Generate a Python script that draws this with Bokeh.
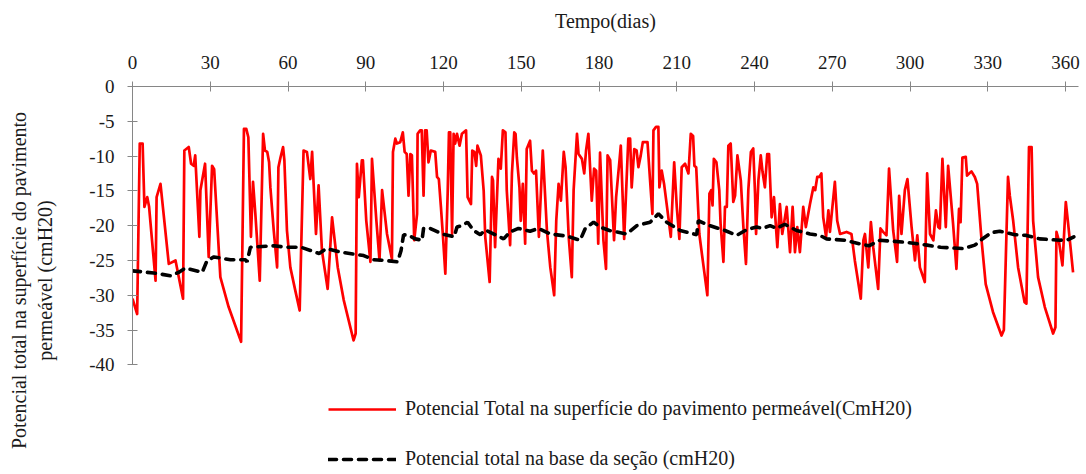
from bokeh.plotting import figure
from bokeh.models import Range1d, FixedTicker, Legend, LegendItem, PrintfTickFormatter
from bokeh.embed import file_html
from bokeh.resources import INLINE

# Surface total potential (cmH2O), daily record read as (day, value) vertices
surface_days = [
    0, 1.8, 2.8, 3.9, 4.6, 5.7, 6.4, 8.9, 9.3, 10.8, 14.0, 16.6, 19.5, 20.0, 21.7, 22.6, 23.6,
    24.2, 25.8, 26.2, 28.0, 29.4, 30.7, 31.5, 33.9, 37.1, 41.9, 43.0, 43.9, 44.7, 45.7, 46.5,
    47.4, 49.1, 50.4, 51.1, 52.0, 52.7, 53.2, 54.5, 55.8, 56.3, 57.1, 58.1, 58.6, 59.6, 60.9,
    62.8, 64.5, 66.0, 67.3, 68.6, 69.3, 70.8, 71.8, 73.1, 75.3, 77.0, 79.2, 81.5, 85.3, 86.1,
    86.6, 87.3, 88.5, 88.9, 90.2, 91.8, 92.4, 94.1, 95.3, 96.3, 98.2, 100.1, 100.5, 101.4,
    102.0, 103.3, 104.3, 105.0, 105.8, 106.5, 107.2, 107.8, 108.7, 109.8, 110.0, 111.0, 111.6,
    112.3, 112.9, 113.5, 114.2, 115.1, 116.8, 117.5, 118.2, 119.0, 119.8, 120.7, 121.6, 122.1,
    122.6, 123.3, 123.9, 124.5, 125.2, 126.2, 127.1, 128.7, 129.3, 130.6, 131.1, 131.9, 132.6,
    133.1, 134.4, 135.5, 136.1, 137.8, 138.7, 139.1, 139.9, 141.2, 142.1, 142.9, 143.9, 144.4,
    145.7, 146.4, 147.3, 147.8, 148.3, 149.3, 149.8, 150.6, 151.5, 152.1, 153.4, 154.1, 154.9,
    155.7, 156.8, 158.3, 159.9, 161.2, 162.7, 163.5, 164.4, 165.3, 166.4, 167.1, 168.3, 169.5,
    170.2, 171.5, 172.1, 173.4, 174.3, 175.0, 175.9, 177.2, 178.1, 178.9, 179.7, 180.4, 181.7,
    182.7, 183.3, 184.3, 185.8, 186.6, 187.9, 188.4, 189.7, 191.3, 192.0, 192.6, 193.6, 194.5,
    195.2, 196.1, 196.9, 198.7, 199.7, 200.6, 201.0, 202.0, 202.9, 203.3, 204.2, 205.1, 206.1,
    207.7, 209.0, 210.0, 211.0, 211.9, 213.2, 214.5, 215.4, 216.3, 216.8, 217.5, 218.7, 220.2,
    221.8, 222.6, 223.3, 223.8, 224.3, 225.3, 226.4, 226.9, 228.0, 228.6, 229.3, 229.9, 230.8,
    231.8, 232.5, 233.4, 234.7, 235.7, 236.7, 237.6, 238.6, 239.5, 240.2, 240.6, 241.5, 242.4,
    243.1, 244.0, 244.9, 245.6, 246.6, 247.5, 248.8, 249.8, 250.7, 252.4, 253.7, 254.7, 255.6,
    256.5, 257.5, 258.8, 259.8, 261.4, 262.7, 263.4, 264.2, 265.0, 265.8, 266.5, 267.6, 268.5,
    269.1, 271.0, 271.9, 273.0, 275.5, 277.4, 278.7, 281.0, 282.0, 282.6, 283.9, 284.9, 285.8,
    287.7, 288.6, 289.6, 290.9, 291.9, 293.5, 295.0, 295.8, 296.7, 298.0, 299.0, 300.6, 301.9,
    302.8, 303.8, 305.7, 306.6, 307.7, 309.0, 310.0, 310.9, 311.5, 312.5, 313.8, 314.7, 316.6,
    317.9, 318.9, 319.5, 320.2, 321.5, 322.0, 323.7, 325.0, 325.9, 327.6, 329.2, 332.0, 335.3,
    336.2, 337.8, 338.5, 339.8, 341.7, 344.2, 344.9, 345.9, 346.9, 347.5, 349.4, 352.0, 355.2,
    356.1, 356.5, 357.4, 358.8, 360.1, 361.0, 362.9,
]
surface_values = [
    -30.5, -32.7, -8.2, -8.2, -17.3, -15.9, -17.3, -27.9, -15.9, -14.0, -25.5, -25.0, -30.5, -9.2, -8.7, -11.1, -11.4,
    -9.9, -21.6, -14.9, -11.1, -24.5, -11.4, -11.9, -27.4, -31.7, -36.7, -6.1, -6.1, -7.3, -21.6, -13.7,
    -18.3, -27.9, -6.8, -9.2, -9.4, -10.9, -14.5, -20.7, -26.0, -11.6, -10.2, -8.7, -10.6, -20.7, -26.0,
    -29.3, -32.2, -9.2, -9.4, -13.3, -9.4, -21.2, -14.2, -23.6, -29.1, -18.8, -26.0, -30.7, -36.5, -35.5,
    -11.1, -15.9, -10.6, -10.6, -19.3, -25.2, -10.4, -19.3, -25.0, -14.9, -21.2, -24.8, -9.4, -7.5,
    -8.2, -8.0, -6.6, -9.4, -9.7, -15.7, -9.7, -9.9, -22.1, -18.3, -6.8, -6.3, -6.3,
    -15.7, -6.3, -6.3, -10.9, -9.2, -9.4, -13.0, -13.3, -17.3, -21.6, -26.9, -15.4, -6.6,
    -6.6, -21.2, -6.8, -8.2, -6.8, -8.5, -6.8, -6.3, -15.9, -16.9, -9.2, -9.4, -11.4,
    -8.5, -9.9, -15.0, -21.6, -28.1, -13.0, -13.5, -23.1, -10.4, -11.8, -6.3, -6.6, -14.9,
    -22.8, -12.5, -6.6, -6.8, -10.2, -14.5, -19.3, -14.0, -22.6, -9.0, -7.8, -12.1, -12.5,
    -12.1, -21.6, -9.2, -20.7, -26.0, -30.0, -19.3, -14.0, -16.4, -9.4, -11.6, -21.6, -27.4,
    -14.9, -6.8, -9.7, -10.4, -12.5, -9.2, -6.8, -16.4, -11.8, -12.1, -22.6, -9.5, -22.1,
    -26.2, -9.9, -10.6, -22.1, -15.9, -10.6, -8.5, -21.9, -7.5, -7.5, -14.5, -9.0, -9.2,
    -11.6, -9.9, -8.0, -8.0, -13.5, -18.3, -6.3, -5.8, -5.8, -14.5, -12.1, -14.0, -16.9,
    -21.6, -10.9, -17.3, -21.9, -11.6, -11.1, -12.5, -6.8, -7.1, -11.4, -11.6, -21.2, -25.5,
    -30.0, -15.4, -14.9, -17.1, -10.4, -10.9, -14.9, -19.7, -25.2, -17.3, -17.3, -8.5, -8.2,
    -16.6, -15.7, -9.9, -13.5, -20.2, -25.5, -14.9, -9.4, -8.9, -15.4, -21.2, -13.5, -9.9,
    -12.3, -14.5, -9.7, -9.7, -18.8, -15.9, -23.1, -16.9, -21.2, -17.3, -23.8, -17.3, -23.8,
    -20.2, -23.8, -17.3, -20.2, -16.9, -14.5, -14.9, -13.0, -13.0, -12.5, -18.8, -21.6, -17.8,
    -20.9, -13.7, -19.3, -21.2, -20.9, -21.2, -25.0, -30.5, -22.1, -21.2, -26.0, -19.5, -23.1,
    -29.1, -20.4, -20.9, -21.4, -11.8, -20.7, -25.2, -15.7, -21.2, -14.9, -13.3, -20.2, -25.0,
    -21.4, -26.0, -28.1, -12.5, -21.2, -22.1, -17.8, -20.2, -20.4, -10.4, -20.2, -11.4, -19.7,
    -26.2, -17.6, -19.5, -10.2, -10.1, -12.8, -12.2, -13.0, -14.0, -22.1, -28.4, -32.4, -35.8,
    -35.0, -13.0, -15.7, -19.3, -26.0, -31.0, -31.2, -8.7, -8.7, -19.3, -27.4, -31.7, -35.5,
    -34.6, -20.9, -22.1, -25.7, -16.6, -19.7, -26.7,
]

# Total potential at the base of the section (cmH2O)
base_days = [
    0, 8.2, 14.7, 17.9, 20.4, 26.9, 28.8, 31.4, 37.8, 43.6, 44.2, 45.5, 50, 54.5, 59.6, 65,
    72, 74.8, 80.2, 89.2, 93, 97.5, 102.3, 103.6, 104.6, 106.5, 109.1, 111.7, 112.3, 114.9,
    119.4, 122.0, 124.1, 125.2, 127.1, 129.3, 131.6, 134.2, 136.1, 143.2, 145.7, 148.9, 153.4,
    156.6, 161.2, 167.6, 172.7, 174.7, 177.9, 180.4, 184, 190.7, 194.6, 199.7, 202.9, 206.1,
    211.3, 217.7, 218.3, 222.8, 228.6, 233.1, 236.9, 240.8, 243, 246, 248.5, 251.7, 256.2,
    261.4, 265.2, 267.8, 274.9, 278.1, 284.1, 288.4, 298.6, 306.6, 311.8, 320.5, 325.0, 327.6,
    331.4, 334.6, 340.4, 344.9, 350.0, 357.8, 361.0, 363.2,
]
base_values = [
    -26.5, -26.8, -27.2, -26.7, -26.1, -26.7, -25.0, -24.5, -24.9, -24.9, -25.2, -23.1, -23.0, -22.9, -23.1, -23.1,
    -24.0, -23.3, -23.8, -24.3, -24.9, -25.0, -25.2, -23.6, -21.3, -21.4, -21.9, -22.1, -20.4, -20.4,
    -21.2, -21.4, -21.6, -20.2, -20.0, -19.5, -20.7, -21.3, -20.6, -21.9, -20.9, -20.4, -20.8,
    -20.4, -21.2, -21.5, -22.1, -20.4, -19.5, -20.2, -20.7, -21.2, -20.0, -19.5, -18.3, -19.5,
    -20.7, -21.3, -19.3, -20.0, -20.7, -21.4, -20.6, -20.2, -20.4, -20.0, -20.4, -19.8, -20.7,
    -21.2, -21.4, -21.9, -22.1, -22.4, -22.9, -22.1, -22.4, -22.8, -23.1, -23.3, -22.8, -22.0,
    -21.0, -20.8, -21.3, -21.4, -21.9, -22.1, -22.0, -21.6,
]

surface_label = "Potencial Total na superfície do pavimento permeável(CmH20)"
base_label = "Potencial total na base da seção (cmH20)"

day_ticks = list(range(0, 361, 30))
value_ticks = list(range(0, -41, -5))

FONT = "Liberation Serif"
TEXT = "#1a1a1a"
AXIS = "#868686"

# The frame runs to the bottom of the page so the key can sit under the
# -40 line; the value axis itself is bounded to 0..-40.
PX_PER_UNIT = 278.3 / 40.0
FRAME_HEIGHT = 474 - 86
y_low = -FRAME_HEIGHT / PX_PER_UNIT

p = figure(
    width=1086, height=474,
    output_backend="svg", toolbar_location=None,
    x_axis_location="above",
    x_range=Range1d(0, 365), y_range=Range1d(y_low, 0),
    min_border_left=132, min_border_right=8,
    min_border_top=86, min_border_bottom=0,
)
p.outline_line_color = None
p.xgrid.visible = False
p.ygrid.visible = False
p.background_fill_color = "white"

red = p.line(surface_days, surface_values, line_color="#ff0000", line_width=2.7,
             line_join="round")
black = p.line(base_days, base_values, line_color="black", line_width=3.6,
               line_dash="8 7", line_cap="round")

xa = p.xaxis[0]
xa.ticker = FixedTicker(ticks=day_ticks)
xa.axis_label = "Tempo(dias)"
ya = p.yaxis[0]
ya.ticker = FixedTicker(ticks=value_ticks)
ya.bounds = (-40, 0)
ya.formatter = PrintfTickFormatter(format="%d")
ya.axis_label = "Potencial total na superfície do pavimento\npermeável (cmH20)"

for ax in (xa, ya):
    ax.axis_line_color = AXIS
    ax.major_tick_line_color = AXIS
    ax.minor_tick_line_color = None
    ax.major_tick_in = 5
    ax.major_tick_out = 5
    ax.major_label_standoff = 13
    ax.major_label_text_font = FONT
    ax.major_label_text_font_size = "19px"
    ax.major_label_text_color = TEXT
    ax.axis_label_text_font = FONT
    ax.axis_label_text_font_size = "20px"
    ax.axis_label_text_font_style = "normal"
    ax.axis_label_text_color = TEXT
xa.axis_label_standoff = 21
ya.axis_label_standoff = 30

legend = Legend(
    items=[
        LegendItem(label=surface_label, renderers=[red]),
        LegendItem(label=base_label, renderers=[black]),
    ],
    location=(196, 4),
    orientation="vertical",
    glyph_width=68, glyph_height=20,
    label_height=20, spacing=27, padding=0, margin=0,
    label_standoff=9,
    label_text_font=FONT, label_text_font_size="20px", label_text_color=TEXT,
    border_line_alpha=0, background_fill_alpha=0,
)
p.add_layout(legend, "center")

open("out.html", "w").write(file_html(p, INLINE))
